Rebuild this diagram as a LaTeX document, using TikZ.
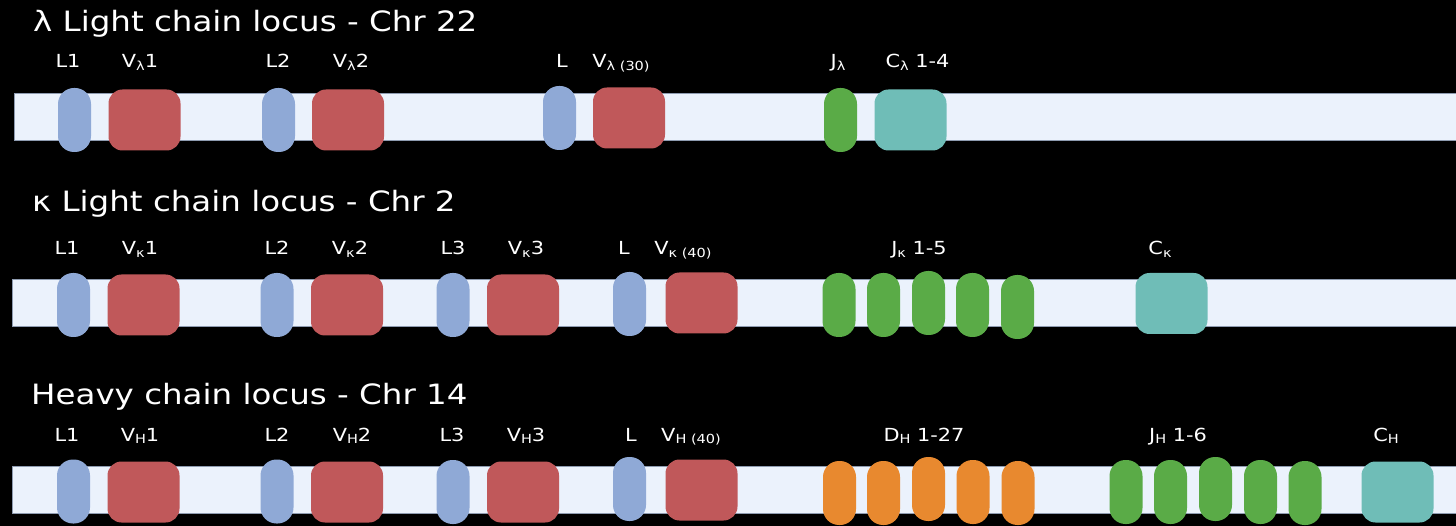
\documentclass[tikz,border=0pt]{standalone}
\usepackage{fontspec}
\setmainfont{DejaVu Sans}[FakeStretch=1.16]
\definecolor{leadblue}{HTML}{8FA9D6}
\definecolor{vred}{HTML}{C0585A}
\definecolor{jgreen}{HTML}{5AAB47}
\definecolor{cteal}{HTML}{6FBDB7}
\definecolor{dorange}{HTML}{E8892F}
\definecolor{chrfill}{HTML}{EBF2FC}
\definecolor{chredge}{HTML}{8E9BB0}
\newcommand{\gsub}[1]{\raisebox{-0.3ex}{\fontsize{12.5}{13}\selectfont #1}}

\begin{document}
\begin{tikzpicture}[x=1pt, y=-1pt,
  seg/.style={inner sep=0pt, outer sep=0pt, minimum width=33pt,
              minimum height=64pt, rounded corners=16pt},
  lead/.style={seg, fill=leadblue},
  jseg/.style={seg, fill=jgreen},
  dseg/.style={seg, fill=dorange},
  vbox/.style={inner sep=0pt, outer sep=0pt, minimum width=72pt,
               minimum height=61pt, rounded corners=14pt, fill=vred},
  cbox/.style={vbox, fill=cteal},
  chrom/.style={fill=chrfill, draw=chredge, line width=1pt},
  title/.style={anchor=base west, inner sep=0pt, text=white,
                font=\fontsize{28}{32}\selectfont},
  lbl/.style={anchor=base, inner sep=0pt, text=white,
              font=\fontsize{18}{20}\selectfont}
]

% Background
\fill[black] (0,0) rectangle (1456,526);
\useasboundingbox (0,0) rectangle (1456,526);

% lambda light chain
\node[title] (lamtitle) at (33,32) {λ Light chain locus - Chr 22};
\draw[chrom] (14,94) rectangle (1462,141);
\node[lead] (lamL1) at (74.5,120) {};
\node[vbox] (lamV1) at (144.5,120) {};
\node[lead] (lamL2) at (278.5,120) {};
\node[vbox] (lamV2) at (348,120) {};
\node[lead] (lamL) at (559.5,118) {};
\node[vbox] (lamV) at (629,118) {};
\node[jseg] (lamJ) at (840.5,120) {};
\node[cbox] (lamC) at (910.5,120) {};

\node[lbl] (lamL1lbl) at (68,68) {L1};
\node[lbl] (lamV1lbl) at (140,68) {V\gsub{λ}1};
\node[lbl] (lamL2lbl) at (278,68) {L2};
\node[lbl] (lamV2lbl) at (351,68) {V\gsub{λ}2};
\node[lbl] (lamLlbl) at (562,68) {L};
\node[lbl] (lamVlbl) at (621,68) {V\gsub{λ (30)}};
\node[lbl] (lamJlbl) at (838,68) {J\gsub{λ}};
\node[lbl] (lamClbl) at (917.5,68) {C\gsub{λ} 1-4};

% kappa light chain
\node[title] (kaptitle) at (32,212) {κ Light chain locus - Chr 2};
\draw[chrom] (12,280) rectangle (1462,327);
\node[lead] (kapL1) at (73.5,305) {};
\node[vbox] (kapV1) at (143.5,305) {};
\node[lead] (kapL2) at (277,305) {};
\node[vbox] (kapV2) at (347,305) {};
\node[lead] (kapL3) at (453,305) {};
\node[vbox] (kapV3) at (523,305) {};
\node[lead] (kapL) at (629.5,304) {};
\node[vbox] (kapV) at (701.5,303) {};
\foreach \i/\x/\dy in {1/839/0, 2/883.5/0, 3/928.5/-2, 4/972.5/0, 5/1017.5/2}
  \node[jseg] (kapJ\i) at (\x,305+\dy) {};
\node[cbox] (kapC) at (1171.5,303.5) {};

\node[lbl] (kapL1lbl) at (67,255) {L1};
\node[lbl] (kapV1lbl) at (140,255) {V\gsub{κ}1};
\node[lbl] (kapL2lbl) at (277,255) {L2};
\node[lbl] (kapV2lbl) at (350,255) {V\gsub{κ}2};
\node[lbl] (kapL3lbl) at (453,255) {L3};
\node[lbl] (kapV3lbl) at (526,255) {V\gsub{κ}3};
\node[lbl] (kapLlbl) at (624,255) {L};
\node[lbl] (kapVlbl) at (683,255) {V\gsub{κ (40)}};
\node[lbl] (kapJlbl) at (919,255) {J\gsub{κ} 1-5};
\node[lbl] (kapClbl) at (1160,255) {C\gsub{κ}};

% heavy chain
\node[title] (hvytitle) at (31,404) {Heavy chain locus - Chr 14};
\draw[chrom] (12,466) rectangle (1462,513);
\node[lead] (hvyL1) at (73.5,491.5) {};
\node[vbox] (hvyV1) at (143.5,492) {};
\node[lead] (hvyL2) at (277,491.5) {};
\node[vbox] (hvyV2) at (347,492) {};
\node[lead] (hvyL3) at (453,492) {};
\node[vbox] (hvyV3) at (523,492) {};
\node[lead] (hvyL) at (629.5,489) {};
\node[vbox] (hvyV) at (701.5,490) {};
\foreach \i/\x/\dy in {1/839.5/1, 2/883.5/1, 3/928.5/-3, 4/973/0, 5/1018/1}
  \node[dseg] (hvyD\i) at (\x,492+\dy) {};
\foreach \i/\x/\dy in {1/1126/0, 2/1170.5/0, 3/1215.5/-3, 4/1260.5/0, 5/1305/1}
  \node[jseg] (hvyJ\i) at (\x,492+\dy) {};
\node[cbox] (hvyC) at (1397.5,492) {};

\node[lbl] (hvyL1lbl) at (67,441) {L1};
\node[lbl] (hvyV1lbl) at (140,441) {V\gsub{H}1};
\node[lbl] (hvyL2lbl) at (277,441) {L2};
\node[lbl] (hvyV2lbl) at (352,441) {V\gsub{H}2};
\node[lbl] (hvyL3lbl) at (452,441) {L3};
\node[lbl] (hvyV3lbl) at (526,441) {V\gsub{H}3};
\node[lbl] (hvyLlbl) at (631,441) {L};
\node[lbl] (hvyVlbl) at (691,441) {V\gsub{H (40)}};
\node[lbl] (hvyDlbl) at (924,441) {D\gsub{H} 1-27};
\node[lbl] (hvyJlbl) at (1178,441) {J\gsub{H} 1-6};
\node[lbl] (hvyClbl) at (1386,441) {C\gsub{H}};

\end{tikzpicture}
\end{document}
